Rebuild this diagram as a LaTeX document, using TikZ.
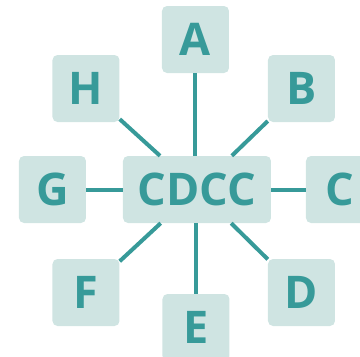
\documentclass[tikz,border=0pt]{standalone}
\usepackage{fontspec}
\setmainfont{Open Sans}
\definecolor{boxfill}{HTML}{CFE4E2}
\definecolor{tealc}{HTML}{379A99}
\begin{document}
\begin{tikzpicture}[x=1pt,y=-1pt,
  box/.style={fill=boxfill, rounded corners=5pt, minimum width=67pt, minimum height=67pt,
    inner sep=0pt, text=tealc, font=\fontsize{45}{45}\selectfont\bfseries},
  link/.style={draw=tealc, line width=4pt}]
\useasboundingbox (0,0) rectangle (360,357);
\node[box] (a) at (195.5,39.5) {A};
\node[box] (h) at (86,88.5) {H};
\node[box] (b) at (301.5,88.5) {B};
\node[box] (g) at (52.5,189.5) {G};
\node[box, minimum width=148pt] (cdcc) at (197,189.5) {CDCC};
\node[box] (c) at (339.5,189.5) {C};
\node[box] (f) at (86,292.5) {F};
\node[box] (d) at (301.5,292.5) {D};
\node[box] (e) at (196,327.5) {E};
\draw[link] (a) -- (a |- cdcc.north);
\draw[link] (e) -- (e |- cdcc.south);
\draw[link] (g) -- (cdcc);
\draw[link] (c) -- (cdcc);
\draw[link] (h) -- (cdcc);
\draw[link] (b) -- (cdcc);
\draw[link] (f) -- (cdcc);
\draw[link] (d) -- (cdcc);
\end{tikzpicture}
\end{document}
